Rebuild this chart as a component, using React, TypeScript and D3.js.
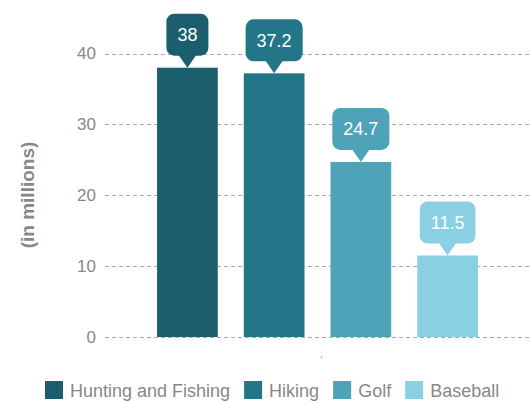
import React, { useEffect, useRef } from "react";
import * as d3 from "d3";

const categories = ["."];
const seriesNames = ["Hunting and Fishing", "Hiking", "Golf", "Baseball"];
const seriesValues = [38, 37.2, 24.7, 11.5];
const seriesColors = ["#1b5f6e", "#227687", "#4fa3b8", "#89d1e2"];
const yTicks = [0, 10, 20, 30, 40];
const yTitle = "(in millions)";

const W = 530;
const H = 401;
const FONT = "'Liberation Sans', Arial, Helvetica, sans-serif";

export default function App() {
  const ref = useRef<SVGSVGElement>(null);

  useEffect(() => {
    const svg = d3.select(ref.current);
    svg.selectAll("*").remove();

    const y = d3.scaleLinear().domain([0, 40]).range([337, 53.5]);
    const x0 = d3.scaleBand().domain(categories).range([105, 530]).padding(0);
    const x1 = d3
      .scaleBand()
      .domain(seriesNames)
      .range([0, x0.bandwidth()])
      .paddingInner(0.3)
      .paddingOuter(0.6);

    // grid
    const grid = svg.append("g");
    yTicks.forEach((t) => {
      grid
        .append("line")
        .attr("x1", 105)
        .attr("x2", 530)
        .attr("y1", Math.round(y(t)) + 0.5)
        .attr("y2", Math.round(y(t)) + 0.5)
        .attr("stroke", "#a8a8a8")
        .attr("stroke-width", 1)
        .attr("stroke-dasharray", "4,3");
      grid
        .append("text")
        .attr("x", 96)
        .attr("y", y(t))
        .attr("dy", "0.35em")
        .attr("text-anchor", "end")
        .attr("font-family", FONT)
        .attr("font-size", 17)
        .attr("fill", "#888")
        .text(String(t));
    });

    // y title
    svg
      .append("text")
      .attr("transform", `translate(27,195) rotate(-90)`)
      .attr("text-anchor", "middle")
      .attr("dy", "0.35em")
      .attr("font-family", FONT)
      .attr("font-size", 19)
      .attr("font-weight", "bold")
      .attr("fill", "#888")
      .text(yTitle);

    // category label
    categories.forEach((c) => {
      svg
        .append("text")
        .attr("x", (x0(c) as number) + x0.bandwidth() / 2 + 4)
        .attr("y", 358)
        .attr("text-anchor", "middle")
        .attr("font-family", FONT)
        .attr("font-size", 12)
        .attr("fill", "#888")
        .text(c);
    });

    // bars
    const base = x0(categories[0]) as number;
    seriesNames.forEach((s, i) => {
      const v = seriesValues[i];
      const bx = base + (x1(s) as number);
      const bw = x1.bandwidth();
      svg
        .append("rect")
        .attr("x", bx)
        .attr("y", y(v))
        .attr("width", bw)
        .attr("height", y(0) - y(v))
        .attr("fill", seriesColors[i]);

      // callout
      const cx = bx + bw / 2;
      const tip = y(v);
      const g = svg.append("g");
      const txt = g
        .append("text")
        .attr("x", cx)
        .attr("text-anchor", "middle")
        .attr("font-family", FONT)
        .attr("font-size", 18)
        .attr("fill", "#fff")
        .text(String(v));
      const tw = (txt.node() as SVGTextElement).getComputedTextLength();
      const boxW = tw + 22;
      const boxH = 42;
      const triH = 12;
      const boxBottom = tip - triH;
      const boxTop = boxBottom - boxH;
      g.insert("rect", "text")
        .attr("x", cx - boxW / 2)
        .attr("y", boxTop)
        .attr("width", boxW)
        .attr("height", boxH)
        .attr("rx", 8)
        .attr("fill", seriesColors[i]);
      g.insert("path", "text")
        .attr(
          "d",
          `M${cx - 9},${boxBottom - 1}L${cx + 9},${boxBottom - 1}L${cx},${tip}Z`
        )
        .attr("fill", seriesColors[i]);
      txt.attr("y", boxTop + boxH / 2).attr("dy", "0.35em");
    });

    // legend
    const lg = svg.append("g");
    let lx = 0;
    seriesNames.forEach((s, i) => {
      const it = lg.append("g");
      it.append("rect")
        .attr("x", lx)
        .attr("y", 381)
        .attr("width", 18)
        .attr("height", 18)
        .attr("fill", seriesColors[i]);
      const t = it
        .append("text")
        .attr("x", lx + 25)
        .attr("y", 397)
        .attr("font-family", FONT)
        .attr("font-size", 18)
        .attr("fill", "#888")
        .text(s);
      const tw = (t.node() as SVGTextElement).getComputedTextLength();
      lx += 25 + tw + 14;
    });
    lg.attr("transform", `translate(${45},0)`);
  }, []);

  return (
    <svg
      ref={ref}
      width={W}
      height={H}
      style={{ position: "absolute", left: 0, top: 0, background: "#fff" }}
    />
  );
}
